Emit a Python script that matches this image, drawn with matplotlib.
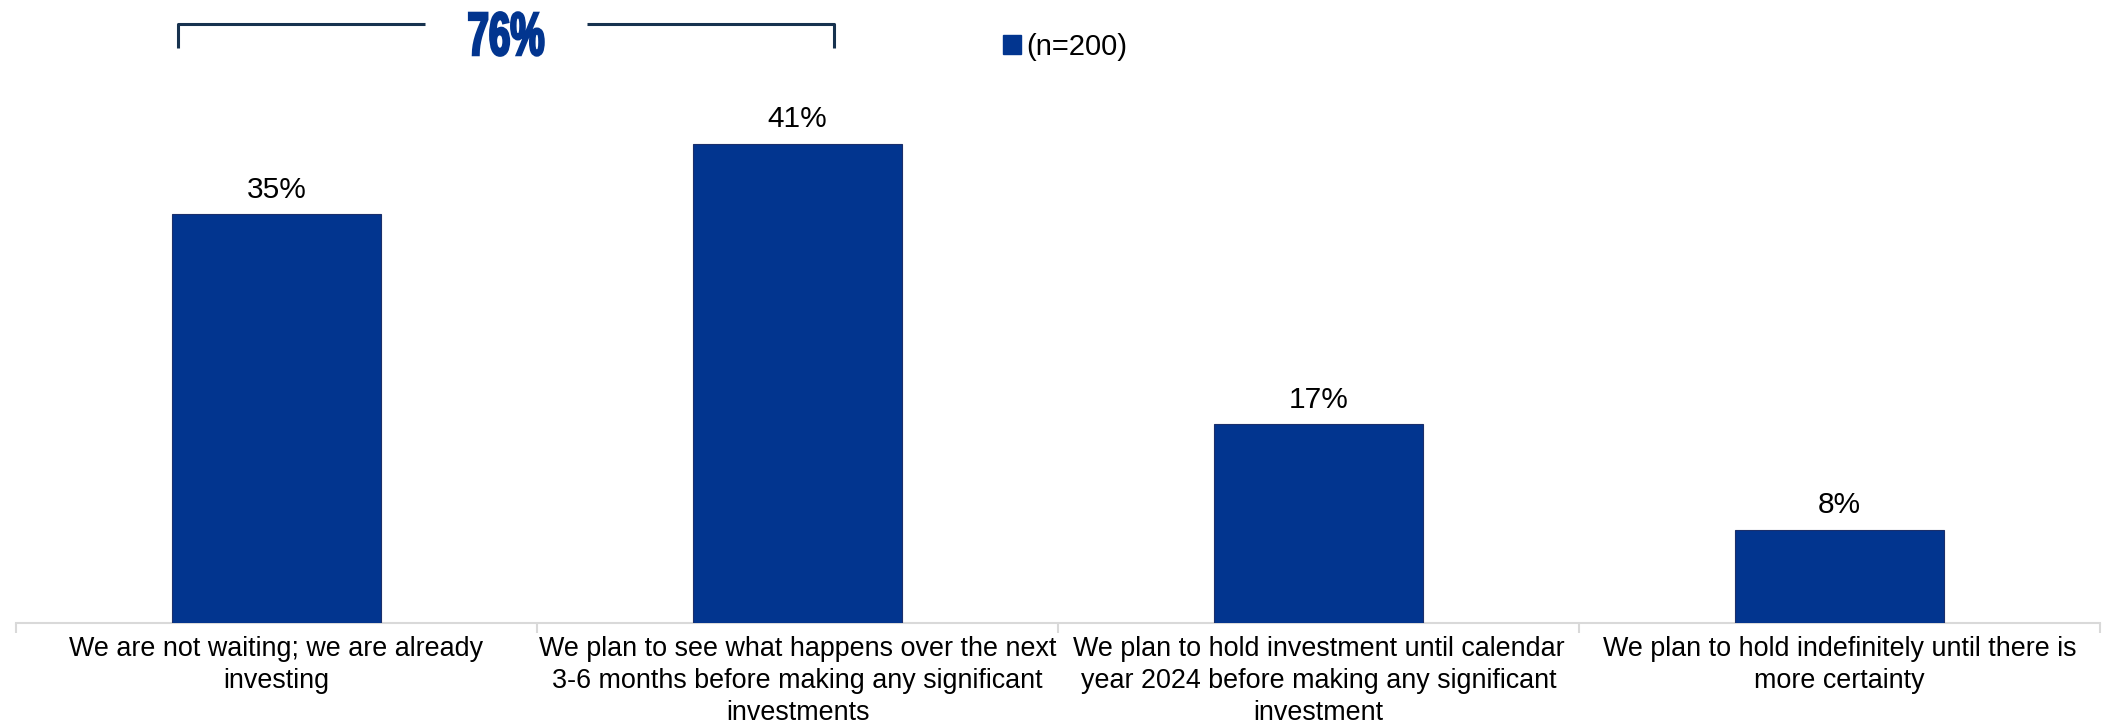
import matplotlib
matplotlib.use("Agg")
import matplotlib.pyplot as plt
from matplotlib.patches import Patch
from matplotlib.lines import Line2D
from matplotlib.patheffects import AbstractPathEffect
from matplotlib.transforms import Affine2D

# ---- data ----
categories = [
    "We are not waiting; we are already\ninvesting",
    "We plan to see what happens over the next\n3-6 months before making any significant\ninvestments",
    "We plan to hold investment until calendar\nyear 2024 before making any significant\ninvestment",
    "We plan to hold indefinitely until there is\nmore certainty",
]
values = [35, 41, 17, 8]
series_label = "(n=200)"
combined_label = "76%"

BAR = "#02358F"
W, H = 2102, 723

plt.rcParams["font.family"] = ["Liberation Sans", "DejaVu Sans"]

fig = plt.figure(figsize=(W / 100, H / 100), dpi=100)
ax = fig.add_axes([16 / W, 0.1383, (2100 - 16) / W, 0.7270])

x = list(range(len(values)))
bars = ax.bar(x, values, width=0.40, color=BAR, edgecolor="#1b2f6b", linewidth=0.8, zorder=3)
ax.set_xlim(-0.5, len(values) - 0.5)
ax.set_ylim(0, 45)

for xi, v in zip(x, values):
    ax.annotate(f"{v}%", (xi, v), xytext=(0, 12), textcoords="offset points",
                ha="center", va="baseline", fontsize=21.5, color="black")

for s in ("left", "right", "top"):
    ax.spines[s].set_visible(False)
ax.spines["bottom"].set_color("#d9d9d9")
ax.spines["bottom"].set_linewidth(1.5)
ax.set_yticks([])

# category separators as major ticks, names as minor tick labels
ax.set_xticks([i - 0.5 for i in range(len(values) + 1)])
ax.set_xticklabels([])
ax.tick_params(axis="x", which="major", length=7, width=1.5, color="#d9d9d9")
ax.set_xticks(x, minor=True)
ax.set_xticklabels(categories, minor=True, fontsize=19.4, linespacing=1.32)
ax.tick_params(axis="x", which="minor", length=0, pad=9)


class HSqueeze(AbstractPathEffect):
    """Compress drawn glyphs horizontally about a centre line, with a thin outline."""

    def __init__(self, stroke=1.5):
        super().__init__()
        self.sx = 1.0
        self.cx = 0.0
        self.stroke = stroke

    def draw_path(self, renderer, gc, tpath, affine, rgbFace=None):
        t = affine + Affine2D().translate(-self.cx, 0).scale(self.sx, 1).translate(self.cx, 0)
        gc0 = renderer.new_gc()
        gc0.copy_properties(gc)
        gc0.set_linewidth(self.stroke)
        gc0.set_foreground(rgbFace if rgbFace is not None else gc.get_rgb())
        gc0.set_joinstyle("miter")
        renderer.draw_path(gc0, tpath, t, rgbFace)
        gc0.restore()


# bracket spanning the first two answers
yb_top = 1 - 24 / H
yb_bot = 1 - 48 / H
xl, xr = 178 / W, 834 / W
gl, gr = 425 / W, 587 / W
bracket_kw = dict(color="#17324f", linewidth=2.2, solid_capstyle="butt", solid_joinstyle="round")
fig.add_artist(Line2D([xl, xl, gl], [yb_bot, yb_top, yb_top], transform=fig.transFigure, **bracket_kw))
fig.add_artist(Line2D([gr, xr, xr], [yb_top, yb_top, yb_bot], transform=fig.transFigure, **bracket_kw))

squeeze = HSqueeze(stroke=1.8)
big = fig.text(506 / W, 1 - 55 / H, combined_label, ha="center", va="baseline",
               fontsize=44, fontweight="bold", color=BAR,
               family=["Liberation Sans Narrow", "Liberation Sans", "DejaVu Sans"],
               path_effects=[squeeze])

fig.legend(handles=[Patch(facecolor=BAR, edgecolor=BAR)], labels=[series_label],
           loc="center left", bbox_to_anchor=(1003 / W, 1 - 47 / H),
           bbox_transform=fig.transFigure, frameon=False, fontsize=21,
           handlelength=0.6, handleheight=0.6, handletextpad=0.2,
           borderpad=0, borderaxespad=0)

fig.canvas.draw()
bb = big.get_window_extent()
squeeze.cx = (bb.x0 + bb.x1) / 2
squeeze.sx = 77 / bb.width

fig.savefig("out.png", dpi=100)
